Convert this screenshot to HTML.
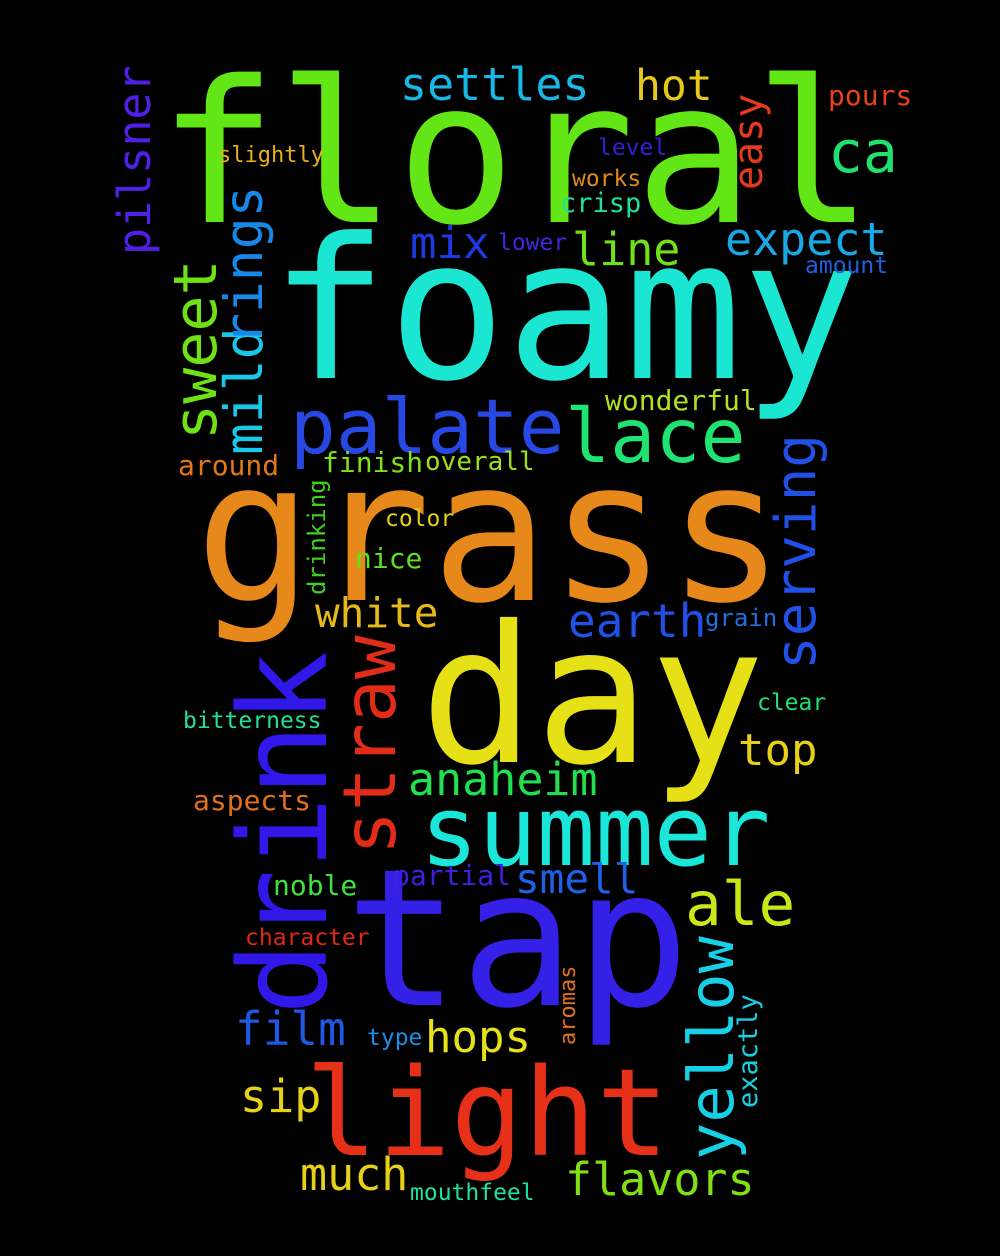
<!DOCTYPE html>
<html><head><meta charset="utf-8"><style>
html,body{margin:0;padding:0;background:#000;}
svg{display:block;}
text{font-family:"DejaVu Sans Mono","Liberation Mono",monospace;}
</style></head><body>
<svg id="cloud" width="1000" height="1256" viewBox="0 0 1000 1256" xmlns="http://www.w3.org/2000/svg">
<rect width="1000" height="1256" fill="#000"/>
</svg>
<script>
const words = ["floral","foamy","grass","day","tap","light","drink","summer","palate","lace","straw","sweet","mild","rings","pilsner","serving","yellow","easy","drinking","aromas","exactly","settles","hot","pours","ca","slightly","level","works","crisp","mix","lower","line","expect","amount","wonderful","around","finish","overall","color","nice","white","earth","grain","clear","bitterness","top","anaheim","aspects","smell","partial","noble","ale","character","film","type","hops","sip","much","mouthfeel","flavors"];
const sizes = [198,196,196,191,191,121,121,97,76,75,73,60,53,53,45,56,62,40,24,22,27,45,43,28,58,22,23,23,27,44,23,45,45,23,28,28,28,26,23,28,41,46,24,23,23,44,45,28,41,28,28,61,23,46,23,44,45,45,23,45];
const colors = ["#62e616","#1ae6d2","#e6881a","#e6e016","#3420e6","#e63018","#3018e8","#1ae6da","#2848e4","#20e472","#e02c18","#6ee214","#18c8e8","#1888e8","#5020e6","#2050e6","#18d0e6","#e63a1c","#40d020","#e07020","#18d0e0","#18b8e6","#e6c818","#e64418","#20e070","#e6b018","#3020d8","#e08820","#20e0a0","#2038e0","#4028e0","#70e018","#18a8e6","#2060e0","#b0e020","#e07818","#80e018","#a0e018","#e6d018","#60e020","#e6b818","#2050e6","#2070e0","#20e070","#20e0a0","#e6d018","#20e050","#e07020","#2060e6","#4020e0","#40e040","#c8e618","#e02818","#2058e6","#1890e6","#e6e018","#e6d018","#e6d018","#20e0a0","#80e018"];
const rot = [0,0,0,0,0,0,1,0,0,0,1,1,1,1,1,1,1,1,1,1,1,0,0,0,0,0,0,0,0,0,0,0,0,0,0,0,0,0,0,0,0,0,0,0,0,0,0,0,0,0,0,0,0,0,0,0,0,0,0,0];
const xs = [158,270,195,420,345,305,326,420,290,565,395,216,262,262,150,815,733,762,325,575,757,400,635,828,828,218,598,572,560,410,498,572,725,805,605,178,322,425,385,355,315,568,705,757,183,738,408,193,515,393,273,685,245,235,367,425,240,300,410,565];
const ys = [222,378,600,762,1005,1155,1015,865,453,462,855,440,455,345,255,670,1160,190,595,1045,1108,100,100,105,172,162,155,186,212,258,250,265,255,273,410,475,472,470,526,568,627,637,626,710,728,765,795,810,893,885,895,925,945,1045,1045,1052,1112,1190,1200,1195];
const svg = document.getElementById('cloud');
const NS = 'http://www.w3.org/2000/svg';
words.forEach((w,i)=>{
  const t = document.createElementNS(NS,'text');
  
  
  t.setAttribute('x', xs[i]);
  t.setAttribute('y', ys[i]);
  t.setAttribute('font-size', sizes[i]);
  t.setAttribute('fill', colors[i]);
  t.setAttribute('textLength', (sizes[i]*0.602*w.length).toFixed(1));
  t.setAttribute('lengthAdjust', 'spacingAndGlyphs');
  if (rot[i]) t.setAttribute('transform', 'rotate(-90 ' + xs[i] + ' ' + ys[i] + ')');
  t.textContent = w;
  svg.appendChild(t);
});
</script>
</body></html>
